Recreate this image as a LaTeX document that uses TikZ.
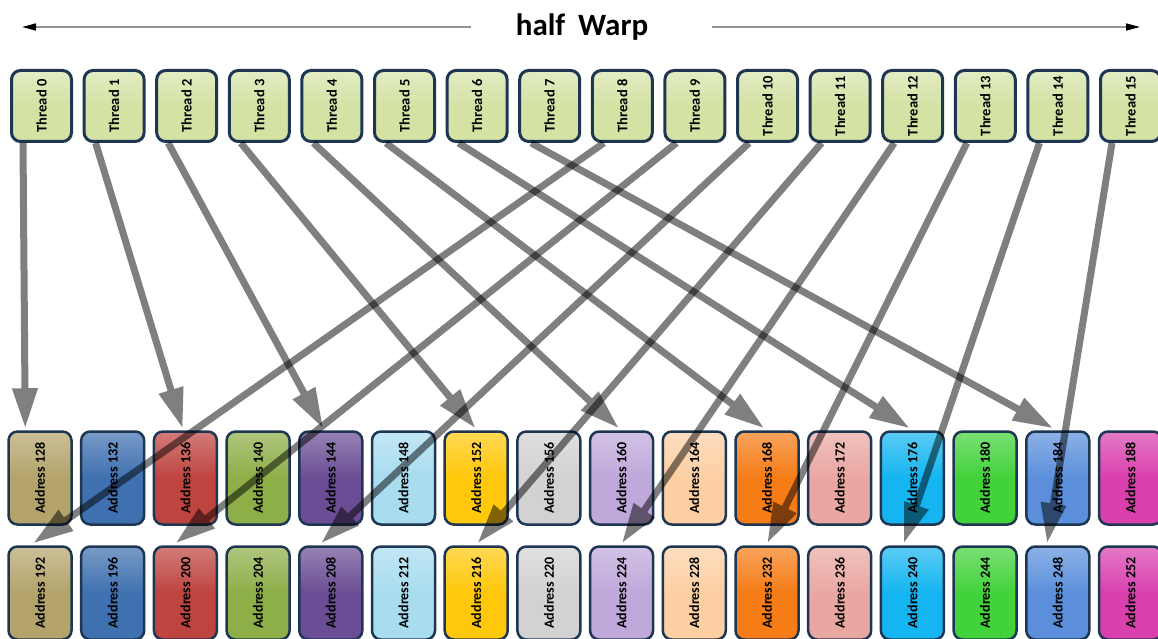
\documentclass[tikz,border=0pt]{standalone}
\usepackage{fontspec}
\setmainfont{Carlito}
\usetikzlibrary{arrows.meta}
\definecolor{c0}{HTML}{B4A46B}
\definecolor{c1}{HTML}{3F70B0}
\definecolor{c2}{HTML}{BE4440}
\definecolor{c3}{HTML}{8EAE48}
\definecolor{c4}{HTML}{6A4D94}
\definecolor{c5}{HTML}{A8DCEF}
\definecolor{c6}{HTML}{FFC80A}
\definecolor{c7}{HTML}{D2D2D2}
\definecolor{c8}{HTML}{BFA8DA}
\definecolor{c9}{HTML}{FDCFA3}
\definecolor{c10}{HTML}{F57C17}
\definecolor{c11}{HTML}{E9A7A2}
\definecolor{c12}{HTML}{14B5F0}
\definecolor{c13}{HTML}{42D23A}
\definecolor{c14}{HTML}{5B8FDB}
\definecolor{c15}{HTML}{D940AE}
\definecolor{border}{HTML}{1F3652}
\definecolor{thr}{HTML}{D4E2A4}
\tikzset{
  threadbox/.style={draw=border, line width=3pt, rounded corners=9pt,
    top color=thr!65!white, bottom color=thr, middle color=thr,
    minimum width=60pt, minimum height=71pt, inner sep=0pt,
    font=\fontsize{14.5}{14.5}\selectfont\bfseries},
  addrbox/.style={draw=border, line width=2.5pt, rounded corners=9pt,
    top color=#1!70!white, bottom color=#1, middle color=#1,
    minimum width=63pt, minimum height=93pt, inner sep=0pt,
    font=\fontsize{14}{14}\selectfont\bfseries},
  maparrow/.style={line width=7pt, black, -{Triangle[length=40pt,width=24pt]}},
  hdrarrow/.style={line width=1.6pt, gray!85, -{Triangle[length=14pt,width=7pt,color=black]}},
}
\begin{document}
\begin{tikzpicture}[x=1pt,y=-1pt]
\useasboundingbox (0,0) rectangle (1158,639);
\clip (0,0) rectangle (1158,639);
% header
\node[inner sep=0pt, font=\fontsize{31}{31}\selectfont\bfseries] (hw) at (582,27) {half\hspace{13pt}Warp};
\coordinate (hl) at (22,27);
\coordinate (hr) at (1140,27);
\draw[hdrarrow, shorten <=45pt] (hw.west) -- (hl);
\draw[hdrarrow, shorten <=64pt] (hw.east) -- (hr);
% threads
\foreach \i in {0,...,15}{
  \node[threadbox] (t\i) at ({41.5+72.6*\i},106) {\rotatebox{90}{Thread \i}};
}
% addresses
\foreach \i in {0,...,15}{
  \pgfmathtruncatemacro{\ta}{128+4*\i}
  \pgfmathtruncatemacro{\ba}{192+4*\i}
  \node[addrbox=c\i] (a\i) at ({40+72.7*\i},478) {\rotatebox{90}{Address \ta}};
  \node[addrbox=c\i] (b\i) at ({40+72.7*\i},593) {\rotatebox{90}{Address \ba}};
}
% mapping arrows (thread i -> address 128+8i)
\foreach \i/\tg/\dx in {0/a0/18,1/a2/30,2/a4/25,3/a6/32,4/a8/30,5/a10/30,6/a12/30,7/a14/28,
                        8/b0/26,9/b2/23,10/b4/23,11/b6/34,12/b8/33,13/b10/33,14/b12/24,15/b14/22}{
  \begin{scope}[transparency group, opacity=0.5]
    \draw[maparrow] ([xshift=13pt]t\i.south west) -- ([xshift=\dx pt, yshift=2pt]\tg.north west);
  \end{scope}
}
\end{tikzpicture}
\end{document}
